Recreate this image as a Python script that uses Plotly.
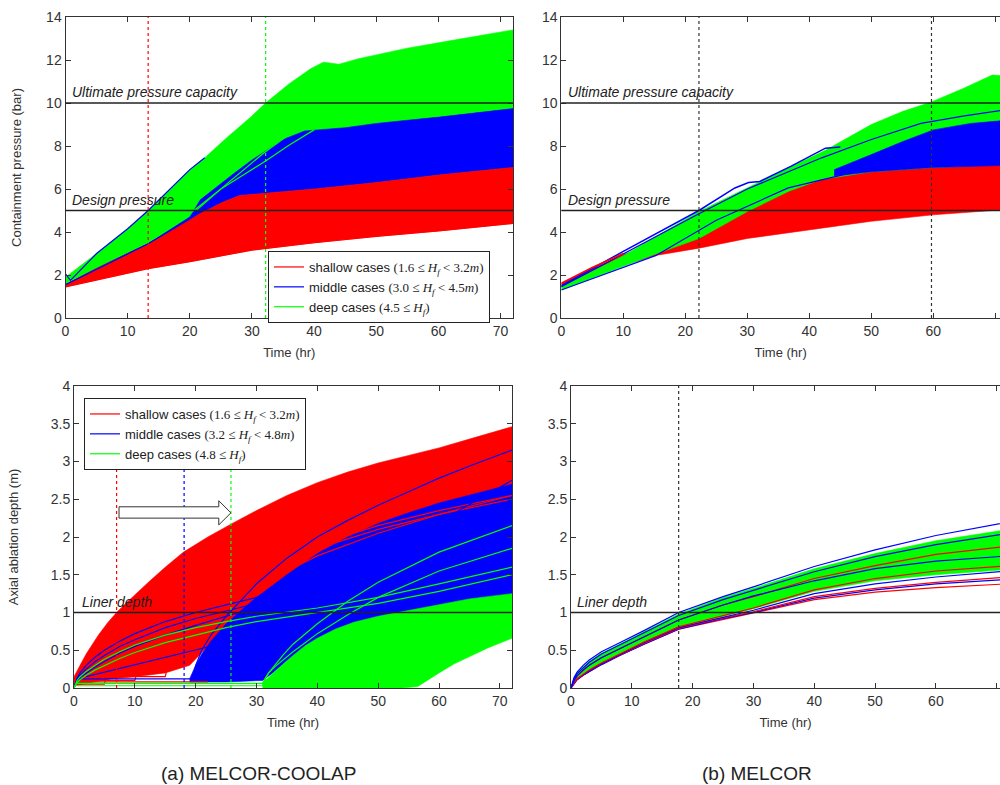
import plotly.graph_objects as go

RED = "#ff0000"
BLUE = "#0000ff"
GREEN = "#00ff00"

# ================= (a) MELCOR-COOLAP : containment pressure (bar) =================
A_P_RED_LO_T = [0, 13.3, 20, 30, 40, 50, 60, 72]
A_P_RED_LO = [1.45, 2.3, 2.62, 3.16, 3.5, 3.8, 4.05, 4.4]
A_P_RED_UP_T = [0, 5, 10, 13.3, 20, 25, 28, 40, 50, 60, 72]
A_P_RED_UP = [1.55, 2.3, 3.0, 3.45, 4.6, 5.35, 5.7, 6.0, 6.3, 6.65, 7.0]
A_P_BLUE_UP_T = [0, 5, 10, 13.3, 20, 21.7, 24.3, 27, 30, 32.2, 35, 38.5, 45, 50, 60, 72]
A_P_BLUE_UP = [1.55, 2.3, 3.0, 3.45, 4.7, 5.5, 6.1, 6.7, 7.35, 7.75, 8.3, 8.7, 8.85, 9.05, 9.35, 9.75]
A_P_GREEN_UP_T = [0, 5, 10, 13.3, 20, 22.4, 26, 30, 32.2, 36, 39.5, 41.5, 44, 47, 55, 63, 72]
A_P_GREEN_UP = [1.9, 3.0, 4.15, 5.0, 6.9, 7.45, 8.4, 9.4, 10.0, 10.9, 11.6, 11.9, 11.8, 12.05, 12.55, 12.95, 13.4]
# individual cases
A_P_BLUE_STEEP_T = [0, 0.8, 5, 10, 13.3, 20, 22.4]
A_P_BLUE_STEEP = [2.05, 1.75, 3.0, 4.15, 5.0, 6.9, 7.45]
A_P_BLUE_EDGE_T = [0, 10, 13.3, 20, 22, 25]
A_P_BLUE_EDGE = [1.55, 3.0, 3.45, 4.6, 5.0, 5.4]
A_P_GREEN_X1_T = [20, 25, 32.2, 36, 40]
A_P_GREEN_X1 = [4.85, 6.0, 7.3, 8.05, 8.75]
A_P_GREEN_X2_T = [21, 26, 32, 37.5, 45, 60, 72]
A_P_GREEN_X2 = [5.0, 6.25, 7.7, 8.85, 9.0, 9.4, 9.8]

# ================= (b) MELCOR : containment pressure (bar) =================
B_P_RED_LO_T = [0, 10, 15, 22.2, 30, 40, 50, 60, 72]
B_P_RED_LO = [1.45, 2.45, 2.9, 3.25, 3.7, 4.1, 4.5, 4.8, 5.05]
B_P_RED_UP_T = [0, 10, 15, 22.2, 30, 36.7, 42, 50, 60, 72]
B_P_RED_UP = [1.6, 2.95, 3.45, 3.85, 5.0, 5.95, 6.5, 6.8, 7.0, 7.15]
B_P_GREEN_LO_T = [0, 10, 15, 22.2, 30, 36.7, 42, 50, 60, 72]
B_P_GREEN_LO = [1.3, 2.4, 2.95, 3.7, 4.95, 5.9, 6.45, 6.8, 7.0, 7.15]
B_P_GREEN_UP_T = [0, 10, 15, 22.2, 30, 36, 42.6, 50, 55, 59.7, 65, 69.5, 72]
B_P_GREEN_UP = [1.45, 2.9, 3.75, 4.95, 6.05, 6.9, 7.8, 9.0, 9.6, 10.05, 10.7, 11.3, 11.25]
B_P_BLUE_LO_T = [44, 50, 60, 72]
B_P_BLUE_LO = [6.6, 6.8, 7.0, 7.1]
B_P_BLUE_UP_T = [44, 50, 55, 60, 66, 72]
B_P_BLUE_UP = [6.9, 7.6, 8.2, 8.75, 9.05, 9.2]
B_P_BLUE_STEEP_T = [0, 10, 22.2, 28, 30.2, 32, 37, 42.6, 45]
B_P_BLUE_STEEP = [1.5, 3.1, 5.0, 6.05, 6.3, 6.35, 7.05, 7.9, 7.95]
B_P_BLUE_MID_T = [0, 22.2, 30, 42, 50, 58, 65, 72]
B_P_BLUE_MID = [1.45, 4.85, 6.0, 7.45, 8.3, 9.05, 9.4, 9.7]
B_P_BLUE_LOW_T = [0, 15.2, 25, 36.6, 47.4]
B_P_BLUE_LOW = [1.3, 2.9, 4.55, 6.05, 6.8]
B_P_RED_TOP_T = [0, 5, 10]
B_P_RED_TOP = [1.62, 2.35, 3.0]

# ================= (a) MELCOR-COOLAP : axial ablation depth (m) =================
C_RED_UP_T = [0, 1, 2, 3, 4, 5.5, 7, 8.5, 10, 12.5, 15, 18, 22, 25.8, 30, 35, 40, 45, 50, 55, 60, 66, 72]
C_RED_UP = [0.15, 0.3, 0.45, 0.58, 0.7, 0.86, 1.0, 1.12, 1.24, 1.42, 1.6, 1.8, 2.0, 2.17, 2.35, 2.55, 2.72,
            2.86, 2.98, 3.08, 3.18, 3.32, 3.46]
C_RED_LO_T = [0, 3, 6, 10, 15, 19, 25, 30, 40, 50, 60, 72]
C_RED_LO = [0.03, 0.08, 0.12, 0.15, 0.2, 0.3, 0.8, 1.1, 1.55, 1.85, 2.05, 2.25]
C_BLUE_LO_T = [19, 25, 31, 33, 35, 37.5, 40, 45, 50, 55, 60, 66, 72]
C_BLUE_LO = [0.08, 0.08, 0.1, 0.22, 0.36, 0.5, 0.6, 0.8, 0.9, 0.98, 1.05, 1.12, 1.2]
C_BLUE_UP_T = [19, 20, 21, 22.5, 25, 27.5, 30, 35, 40, 45, 50, 55, 60, 66, 72]
C_BLUE_UP = [0.12, 0.3, 0.45, 0.62, 0.85, 1.03, 1.2, 1.5, 1.78, 2.0, 2.18, 2.32, 2.45, 2.58, 2.7]
C_GREEN_LO_T = [31, 50, 54, 56.5, 58, 60, 62.5, 65, 68, 72]
C_GREEN_LO = [0, 0, 0, 0.02, 0.1, 0.2, 0.32, 0.42, 0.53, 0.66]
C_GREEN_UP_T = [31, 32, 33, 34.5, 36, 38, 40, 43, 46, 50, 55, 60, 65, 72]
C_GREEN_UP = [0.08, 0.14, 0.22, 0.33, 0.43, 0.56, 0.66, 0.78, 0.87, 0.95, 1.02, 1.1, 1.18, 1.25]
C_T = [0, 0.5, 1, 2, 3.5, 5, 7.5, 10, 15, 20, 25, 30, 40, 50, 60, 72]
C_GREEN_E1 = [0, 0.1, 0.15, 0.22, 0.3, 0.38, 0.48, 0.57, 0.7, 0.8, 0.88, 0.95, 1.06, 1.2, 1.38, 1.6]
C_GREEN_E2 = [0, 0.07, 0.11, 0.17, 0.24, 0.3, 0.39, 0.47, 0.6, 0.7, 0.8, 0.88, 1.0, 1.12, 1.28, 1.5]
C_BLUE_E1 = [0, 0.11, 0.17, 0.25, 0.35, 0.43, 0.55, 0.64, 0.8, 0.92, 1.02, 1.12, 1.38, 1.65, 1.95, 2.3]
C_BLUE_E2 = [0, 0.09, 0.14, 0.2, 0.28, 0.35, 0.46, 0.55, 0.7, 0.83, 0.95, 1.07, 1.35, 1.7, 2.05, 2.5]
C_BLUE_E3 = [0, 0.13, 0.2, 0.3, 0.41, 0.5, 0.62, 0.72, 0.88, 1.0, 1.1, 1.2, 1.5, 1.85, 2.2, 2.75]
C_LATE_T = [0.5, 31, 31.5, 32, 33, 34.5, 36, 38, 40, 45, 50, 60, 72]
C_BLUE_L1 = [0.12, 0.12, 0.25, 0.33, 0.45, 0.6, 0.75, 0.92, 1.06, 1.35, 1.6, 2.0, 2.4]
C_GREEN_L1 = [0.06, 0.06, 0.14, 0.2, 0.28, 0.38, 0.48, 0.6, 0.72, 0.97, 1.2, 1.55, 1.85]
C_GREEN_L2 = [0.03, 0.03, 0.13, 0.2, 0.3, 0.45, 0.58, 0.72, 0.85, 1.15, 1.4, 1.8, 2.15]
C_BLUE_TOP_T = [19.5, 20, 21, 22.5, 25, 27.5, 30, 35, 40, 45, 50, 55, 60, 66, 72]
C_BLUE_TOP = [0.1, 0.3, 0.5, 0.7, 0.95, 1.17, 1.38, 1.72, 2.0, 2.22, 2.42, 2.6, 2.78, 2.97, 3.15]
C_BLUE_RAMP_T = [2, 22.3]
C_BLUE_RAMP = [0.15, 0.55]
C_RED_FLAT_T = [0.5, 22]
C_RED_FLAT = [0.08, 0.08]
C_RED_L1_T = [0.5, 10, 10.5, 11, 12, 13.5, 15, 17, 20, 25, 30, 40, 50, 60, 72]
C_RED_L1 = [0.1, 0.1, 0.25, 0.35, 0.48, 0.62, 0.75, 0.88, 1.05, 1.3, 1.5, 1.85, 2.1, 2.3, 2.5]
C_RED_L2_T = [0.5, 15, 15.5, 16, 17, 18.5, 20, 22, 25, 30, 40, 50, 60, 72]
C_RED_L2 = [0.15, 0.15, 0.32, 0.42, 0.56, 0.7, 0.82, 0.96, 1.12, 1.35, 1.75, 2.05, 2.3, 2.55]
C_RED_L3_T = [0.5, 5, 5.5, 6, 7, 8.5, 10, 12, 15, 20, 30, 40, 50, 60, 72]
C_RED_L3 = [0.05, 0.05, 0.22, 0.32, 0.45, 0.6, 0.72, 0.85, 1.02, 1.25, 1.6, 1.9, 2.15, 2.35, 2.55]

# ================= (b) MELCOR : axial ablation depth (m) =================
D_T = [0, 0.5, 1, 2, 3, 5, 8, 12, 17.7, 25, 30, 40, 50, 60, 72]
D_GREEN_UP = [0, 0.13, 0.2, 0.28, 0.35, 0.46, 0.58, 0.74, 0.98, 1.2, 1.32, 1.58, 1.78, 1.95, 2.1]
D_GREEN_LO = [0, 0.07, 0.12, 0.18, 0.23, 0.32, 0.44, 0.6, 0.8, 0.95, 1.05, 1.28, 1.42, 1.5, 1.57]
D_BLUE_TOP = [0, 0.14, 0.21, 0.3, 0.37, 0.48, 0.6, 0.76, 1.0, 1.21, 1.34, 1.61, 1.83, 2.02, 2.2]
D_BLUE_LOW = [0, 0.06, 0.11, 0.17, 0.22, 0.31, 0.43, 0.58, 0.78, 0.92, 1.0, 1.19, 1.3, 1.38, 1.44]
D_RED_LOW = [0, 0.06, 0.11, 0.17, 0.22, 0.31, 0.43, 0.58, 0.78, 0.91, 0.99, 1.17, 1.27, 1.33, 1.38]
D_RED_2 = [0, 0.07, 0.12, 0.18, 0.23, 0.32, 0.44, 0.59, 0.79, 0.93, 1.01, 1.21, 1.32, 1.4, 1.47]
D_BLUE_2 = [0, 0.07, 0.12, 0.18, 0.23, 0.32, 0.44, 0.6, 0.8, 0.94, 1.03, 1.25, 1.38, 1.47, 1.55]
D_RED_3 = [0, 0.07, 0.12, 0.18, 0.24, 0.33, 0.45, 0.61, 0.81, 0.96, 1.06, 1.3, 1.45, 1.55, 1.62]
D_RED_MID = [0, 0.1, 0.16, 0.23, 0.3, 0.4, 0.52, 0.68, 0.9, 1.1, 1.21, 1.45, 1.62, 1.77, 1.88]
D_BLUE_MID = [0, 0.1, 0.16, 0.24, 0.3, 0.4, 0.52, 0.68, 0.9, 1.1, 1.22, 1.42, 1.58, 1.68, 1.75]
D_BLUE_UP2 = [0, 0.12, 0.19, 0.27, 0.34, 0.45, 0.57, 0.73, 0.96, 1.17, 1.29, 1.54, 1.74, 1.9, 2.05]

# reference levels and markers
ULTIMATE_P = 10
DESIGN_P = 5
LINER_DEPTH = 1
A_P_VLINES = [(13.3, RED), (32.2, GREEN)]
B_P_VLINES = [22.2, 59.7]
A_D_VLINES = [(7.0, RED), (18.1, BLUE), (25.8, GREEN)]
A_D_VLINE_TOP = 3.0
B_D_VLINES = [17.7]

LEG_A_P = ["shallow cases", "(1.6 ≤ ", " &lt; 3.2", "middle cases", "(3.0 ≤ ", " &lt; 4.5", "deep cases", "(4.5 ≤ "]
LEG_A_D = ["shallow cases", "(1.6 ≤ ", " &lt; 3.2", "middle cases", "(3.2 ≤ ", " &lt; 4.8", "deep cases", "(4.8 ≤ "]

SANS = "Liberation Sans"
SERIF = "Liberation Serif"

fig = go.Figure()


def band(tl, yl, tu, yu, color, xa, ya):
    fig.add_trace(go.Scatter(
        x=list(tl) + list(tu)[::-1], y=list(yl) + list(yu)[::-1],
        fill="toself", fillcolor=color, mode="lines",
        line=dict(width=0.6, color=color), xaxis=xa, yaxis=ya,
        showlegend=False, hoverinfo="skip"))


def line(t, y, color, xa, ya, name=None, legend=None, rank=None, width=1.2):
    fig.add_trace(go.Scatter(
        x=t, y=y, mode="lines", line=dict(color=color, width=width),
        xaxis=xa, yaxis=ya, name=name or "", showlegend=name is not None,
        legend=legend or "legend", legendrank=rank or 1000, hoverinfo="skip"))


def label(prefix, lo, hi):
    if hi is None:
        return (prefix + ' <span style="font-family:' + SERIF + '">' + lo +
                "<i>H</i><sub><i>f</i></sub>)</span>")
    return (prefix + ' <span style="font-family:' + SERIF + '">' + lo +
            "<i>H</i><sub><i>f</i></sub>" + hi + "<i>m</i>)</span>")


# ---- panel (a) pressure
band(A_P_RED_UP_T, A_P_RED_UP, A_P_GREEN_UP_T, A_P_GREEN_UP, GREEN, "x", "y")
band(A_P_RED_UP_T, A_P_RED_UP, A_P_BLUE_UP_T, A_P_BLUE_UP, BLUE, "x", "y")
band(A_P_RED_LO_T, A_P_RED_LO, A_P_RED_UP_T, A_P_RED_UP, RED, "x", "y")
line(A_P_RED_LO_T, A_P_RED_LO, RED, "x", "y",
     name=label(LEG_A_P[0], LEG_A_P[1], LEG_A_P[2]), legend="legend", rank=1)
line(A_P_BLUE_STEEP_T, A_P_BLUE_STEEP, BLUE, "x", "y",
     name=label(LEG_A_P[3], LEG_A_P[4], LEG_A_P[5]), legend="legend", rank=2)
line(A_P_BLUE_EDGE_T, A_P_BLUE_EDGE, BLUE, "x", "y")
line(A_P_GREEN_X1_T, A_P_GREEN_X1, GREEN, "x", "y",
     name=label(LEG_A_P[6], LEG_A_P[7], None), legend="legend", rank=3)
line(A_P_GREEN_X2_T, A_P_GREEN_X2, GREEN, "x", "y")

# ---- panel (b) pressure
band(B_P_RED_LO_T, B_P_RED_LO, B_P_RED_UP_T, B_P_RED_UP, RED, "x2", "y2")
band(B_P_GREEN_LO_T, B_P_GREEN_LO, B_P_GREEN_UP_T, B_P_GREEN_UP, GREEN, "x2", "y2")
band(B_P_BLUE_LO_T, B_P_BLUE_LO, B_P_BLUE_UP_T, B_P_BLUE_UP, BLUE, "x2", "y2")
line(B_P_BLUE_STEEP_T, B_P_BLUE_STEEP, BLUE, "x2", "y2", width=1.5)
line(B_P_BLUE_MID_T, B_P_BLUE_MID, BLUE, "x2", "y2")
line(B_P_BLUE_LOW_T, B_P_BLUE_LOW, BLUE, "x2", "y2")
line(B_P_RED_TOP_T, B_P_RED_TOP, RED, "x2", "y2", width=1.6)

# ---- panel (a) ablation
band(C_RED_LO_T, C_RED_LO, C_RED_UP_T, C_RED_UP, RED, "x3", "y3")
band(C_BLUE_LO_T, C_BLUE_LO, C_BLUE_UP_T, C_BLUE_UP, BLUE, "x3", "y3")
band(C_GREEN_LO_T, C_GREEN_LO, C_GREEN_UP_T, C_GREEN_UP, GREEN, "x3", "y3")
line(C_RED_L1_T, C_RED_L1, RED, "x3", "y3",
     name=label(LEG_A_D[0], LEG_A_D[1], LEG_A_D[2]), legend="legend2", rank=1)
line(C_RED_L2_T, C_RED_L2, RED, "x3", "y3")
line(C_RED_L3_T, C_RED_L3, RED, "x3", "y3")
line(C_RED_FLAT_T, C_RED_FLAT, RED, "x3", "y3")
line(C_T, C_BLUE_E1, BLUE, "x3", "y3",
     name=label(LEG_A_D[3], LEG_A_D[4], LEG_A_D[5]), legend="legend2", rank=2)
line(C_T, C_BLUE_E2, BLUE, "x3", "y3")
line(C_T, C_BLUE_E3, BLUE, "x3", "y3")
line(C_LATE_T, C_BLUE_L1, BLUE, "x3", "y3")
line(C_BLUE_TOP_T, C_BLUE_TOP, BLUE, "x3", "y3")
line(C_BLUE_RAMP_T, C_BLUE_RAMP, BLUE, "x3", "y3")
line(C_T, C_GREEN_E1, GREEN, "x3", "y3",
     name=label(LEG_A_D[6], LEG_A_D[7], None), legend="legend2", rank=3)
line(C_T, C_GREEN_E2, GREEN, "x3", "y3")
line(C_LATE_T, C_GREEN_L1, GREEN, "x3", "y3")
line(C_LATE_T, C_GREEN_L2, GREEN, "x3", "y3")

# ---- panel (b) ablation
band(D_T, D_GREEN_LO, D_T, D_GREEN_UP, GREEN, "x4", "y4")
for ys, c in [(D_RED_LOW, RED), (D_BLUE_LOW, BLUE), (D_RED_2, RED), (D_BLUE_2, BLUE),
              (D_RED_3, RED), (D_RED_MID, RED), (D_BLUE_MID, BLUE),
              (D_BLUE_UP2, BLUE), (D_BLUE_TOP, BLUE)]:
    line(D_T, ys, c, "x4", "y4")

# ---------------- layout ----------------
W, H = 1000, 785


def px(x):
    return x / W


def py(y):
    return 1 - y / H


axis_common = dict(showgrid=False, zeroline=False, showline=True, linecolor="#333",
                   linewidth=1, ticks="inside", ticklen=5, tickcolor="#333", automargin=False,
                   tickfont=dict(family=SANS, size=14, color="#333"))
xt = dict(text="Time (hr)", font=dict(family=SANS, size=13, color="#333"), standoff=10)

shapes = []
annotations = []


def hline(ya, xa, y, text, tx):
    shapes.append(dict(type="line", xref=xa + " domain", yref=ya, x0=0, x1=1, y0=y, y1=y,
                       line=dict(color="#222", width=1.5), layer="above"))
    annotations.append(dict(xref=xa, yref=ya, x=tx, y=y, text="<i>" + text + "</i>",
                            showarrow=False, xanchor="left", yanchor="bottom", yshift=1,
                            font=dict(family=SANS, size=14, color="#222")))


def vline(xa, ya, x, color, y1=None):
    if y1 is None:
        shapes.append(dict(type="line", xref=xa, yref=ya + " domain", x0=x, x1=x, y0=0, y1=1,
                           line=dict(color=color, width=1.2, dash="dot"), layer="above"))
    else:
        shapes.append(dict(type="line", xref=xa, yref=ya, x0=x, x1=x, y0=0, y1=y1,
                           line=dict(color=color, width=1.2, dash="dot"), layer="above"))


hline("y", "x", ULTIMATE_P, "Ultimate pressure capacity", 0.8)
hline("y", "x", DESIGN_P, "Design pressure", 0.8)
hline("y2", "x2", ULTIMATE_P, "Ultimate pressure capacity", 0.8)
hline("y2", "x2", DESIGN_P, "Design pressure", 0.8)
hline("y3", "x3", LINER_DEPTH, "Liner depth", 1.0)
hline("y4", "x4", LINER_DEPTH, "Liner depth", 0.6)
for x, c in A_P_VLINES:
    vline("x", "y", x, c)
for x in B_P_VLINES:
    vline("x2", "y2", x, "#333")
for x, c in A_D_VLINES:
    vline("x3", "y3", x, c, A_D_VLINE_TOP)
for x in B_D_VLINES:
    vline("x4", "y4", x, "#333")

# hollow arrow (time shift of ablation onset)
ARROW_X = [7.4, 23.8, 23.8, 25.8, 23.8, 23.8, 7.4]
ARROW_Y = [2.40, 2.40, 2.48, 2.32, 2.16, 2.25, 2.25]
path = "M " + " L ".join(f"{a},{b}" for a, b in zip(ARROW_X, ARROW_Y)) + " Z"
shapes.append(dict(type="path", xref="x3", yref="y3", path=path,
                   line=dict(color="#333", width=1), fillcolor="white", layer="above"))

annotations.append(dict(xref="paper", yref="paper", x=px(258), y=py(773), text="(a) MELCOR-COOLAP",
                        showarrow=False, xanchor="center", yanchor="middle",
                        font=dict(family=SANS, size=19, color="#222")))
annotations.append(dict(xref="paper", yref="paper", x=px(757), y=py(773), text="(b) MELCOR",
                        showarrow=False, xanchor="center", yanchor="middle",
                        font=dict(family=SANS, size=19, color="#222")))

legend_style = dict(xanchor="left", yanchor="top", bgcolor="white", bordercolor="#222",
                    borderwidth=1, tracegroupgap=0,
                    font=dict(family=SANS, size=13, color="#222"))

fig.update_layout(
    width=W, height=H, margin=dict(l=0, r=0, t=0, b=0),
    paper_bgcolor="white", plot_bgcolor="white",
    xaxis=dict(domain=[px(65.5), px(513)], range=[0, 72], dtick=10, mirror="ticks",
               anchor="y", title=xt, **axis_common),
    yaxis=dict(domain=[py(318), py(17)], range=[0, 14], dtick=2, mirror="ticks", anchor="x",
               title=dict(text="Containment pressure (bar)", standoff=21,
                          font=dict(family=SANS, size=13, color="#333")), **axis_common),
    xaxis2=dict(domain=[px(561.3), 1.0], range=[0, 70.75], dtick=10, mirror="ticks",
                anchor="y2", title=xt, **axis_common),
    yaxis2=dict(domain=[py(318), py(17)], range=[0, 14], dtick=2, mirror=False, anchor="x2",
                **axis_common),
    xaxis3=dict(domain=[px(74), px(512)], range=[0, 72], dtick=10, mirror="ticks",
                anchor="y3", title=xt, **axis_common),
    yaxis3=dict(domain=[py(688), py(386)], range=[0, 4], dtick=0.5, mirror="ticks", anchor="x3",
                title=dict(text="Axial ablation depth (m)", standoff=29,
                           font=dict(family=SANS, size=13, color="#333")), **axis_common),
    xaxis4=dict(domain=[px(571), 1.0], range=[0, 70.54], dtick=10, mirror="ticks",
                anchor="y4", title=xt, **axis_common),
    yaxis4=dict(domain=[py(688), py(386)], range=[0, 4], dtick=0.5, mirror=False, anchor="x4",
                **axis_common),
    legend=dict(x=px(268), y=py(251), **legend_style),
    legend2=dict(x=px(84), y=py(398), **legend_style),
    shapes=shapes, annotations=annotations,
)

fig.write_html("out.html", config={"displayModeBar": False},
               post_script="document.body.style.margin='0';document.body.style.overflow='hidden';")
